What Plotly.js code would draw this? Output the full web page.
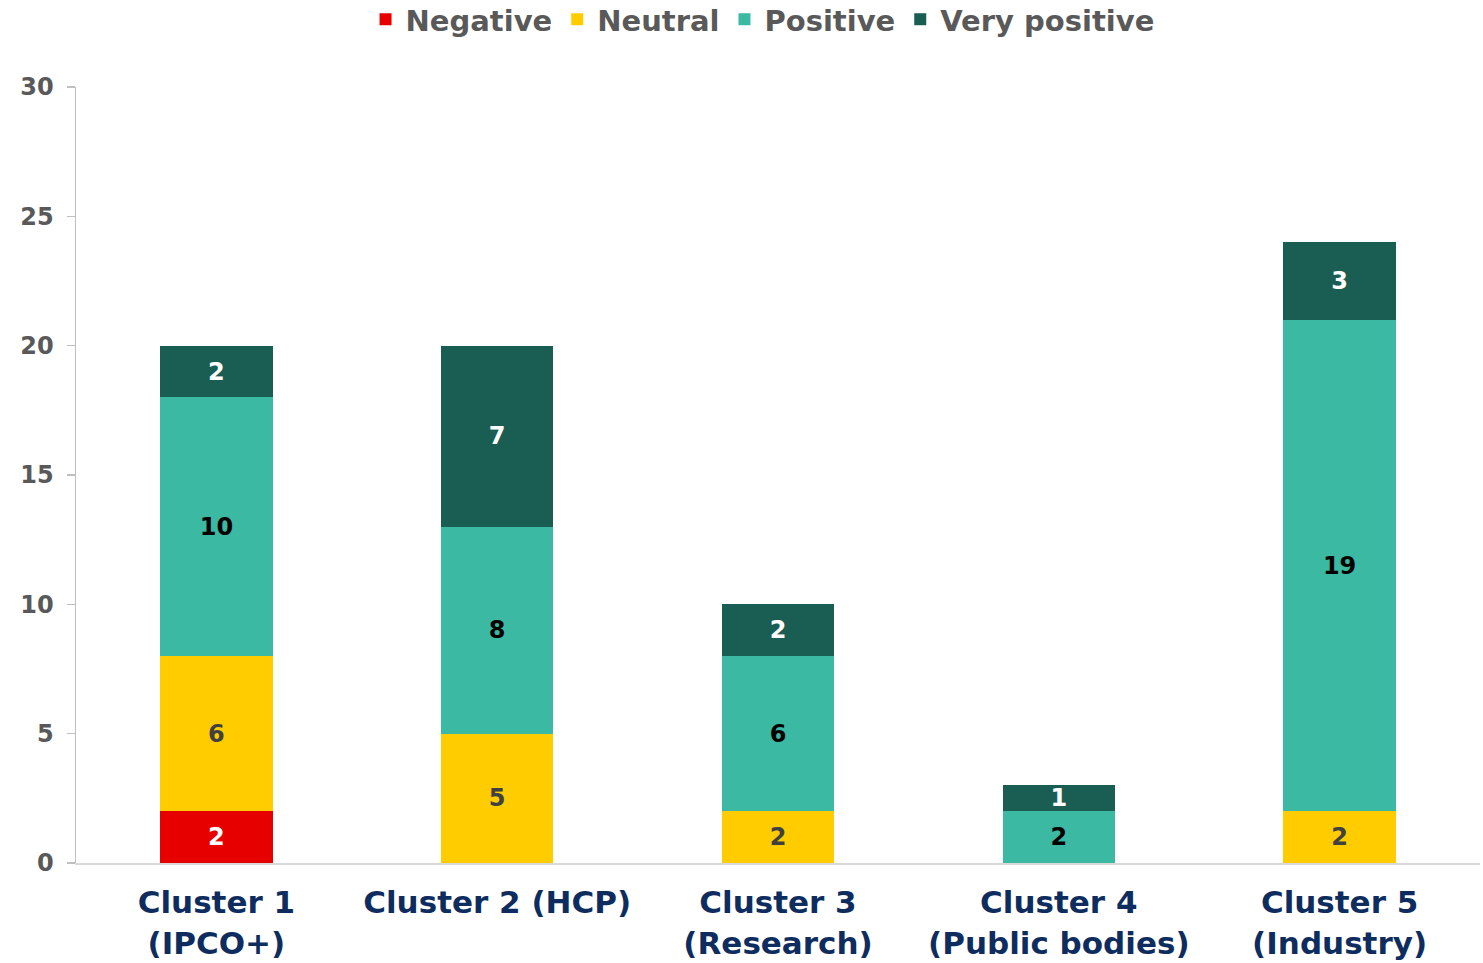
<!DOCTYPE html>
<html>
<head>
<meta charset="utf-8">
<script src="https://cdn.plot.ly/plotly-3.0.1.min.js"></script>
<style>html,body{margin:0;padding:0;background:#fff;}#chart{width:1483px;height:963px;}</style>
</head>
<body>
<div id="chart"></div>
<script>
const categories = ["Cluster 1<br>(IPCO+)", "Cluster 2 (HCP)", "Cluster 3<br>(Research)", "Cluster 4<br>(Public bodies)", "Cluster 5<br>(Industry)"];
const negative = [2, null, null, null, null];
const neutral = [6, 5, 2, null, 2];
const positive = [10, 8, 6, 2, 19];
const veryPositive = [2, 7, 2, 1, 3];
const yTicks = [0, 5, 10, 15, 20, 25, 30];

const FONT = "Verdana, 'DejaVu Sans', sans-serif";
function series(name, vals, color, textColor) {
  return {
    type: 'bar', name: name, x: categories, y: vals,
    marker: {color: color, line: {width: 0}},
    text: vals.map(v => v == null ? '' : String(v)),
    textposition: 'inside', insidetextanchor: 'middle', constraintext: 'none',
    textangle: 0,
    textfont: {family: FONT, size: 24, color: textColor, weight: 'bold'},
    hoverinfo: 'x+y+name'
  };
}
const data = [
  series('Negative', negative, '#e60000', '#ffffff'),
  series('Neutral', neutral, '#ffcc00', '#404040'),
  series('Positive', positive, '#3cb9a3', '#000000'),
  series('Very positive', veryPositive, '#1a5e53', '#ffffff')
];
const layout = {
  width: 1483, height: 963,
  barmode: 'stack', bargap: 0.6,
  margin: {l: 75.5, r: 2.5, t: 87, b: 100, autoexpand: false},
  paper_bgcolor: '#ffffff', plot_bgcolor: '#ffffff',
  font: {family: FONT, weight: 'bold'},
  showlegend: true,
  legend: {orientation: 'h', x: 0.489, xanchor: 'center', y: 1.12, yanchor: 'top',
    font: {family: FONT, size: 29, color: '#595959', weight: 'bold'},
    traceorder: 'normal', itemwidth: 30},
  xaxis: {showline: true, linecolor: '#d9d9d9', linewidth: 2, ticks: '', showgrid: false,
    ticklabelstandoff: 11,
    tickfont: {family: FONT, size: 31, color: '#0e2d5e', weight: 'bold'}, fixedrange: true},
  yaxis: {range: [0, 30], tickvals: yTicks, ticktext: yTicks.map(String), showline: true,
    linecolor: '#bfbfbf', linewidth: 1.5, ticks: 'outside', ticklen: 8, tickcolor: '#bfbfbf',
    tickwidth: 1.5, showgrid: false, zeroline: false, ticklabelstandoff: 8,
    tickfont: {family: FONT, size: 24, color: '#595959', weight: 'bold'}, fixedrange: true}
};
Plotly.newPlot('chart', data, layout, {displayModeBar: false, staticPlot: true});
</script>
</body>
</html>
